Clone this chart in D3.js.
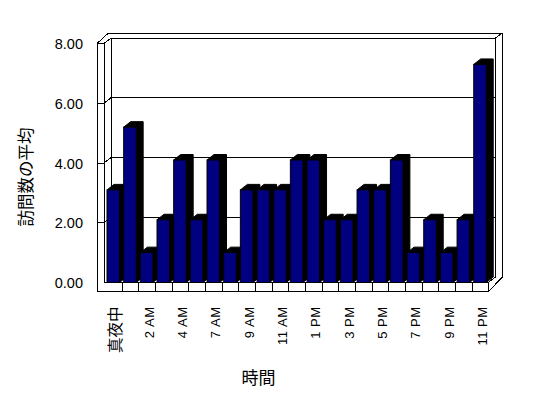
<!DOCTYPE html>
<html>
<head>
<meta charset="utf-8">
<script src="https://cdn.jsdelivr.net/npm/d3@7"></script>
<style>
  body { margin: 0; background: #fff; }
  .frame { fill: none; stroke: #000; stroke-width: 1; shape-rendering: crispEdges; }
  text { fill: #000; }
</style>
</head>
<body>
<div id="chart"></div>
<script>
var hours = ["真夜中","1 AM","2 AM","3 AM","4 AM","5 AM","7 AM","8 AM","9 AM","10 AM","11 AM","正午",
             "1 PM","2 PM","3 PM","4 PM","5 PM","6 PM","7 PM","8 PM","9 PM","10 PM","11 PM"];
var visits = [3.1,5.2,1.0,2.1,4.1,2.1,4.1,1.0,3.1,3.1,3.1,4.1,
              4.1,2.1,2.1,3.1,3.1,4.1,1.0,2.1,1.0,2.1,7.3];
var yTicks = [0,2,4,6,8];
var yTitle = "訪問数の平均",
    xTitle = "時間";

var width = 548, height = 398,
    dx = 7, dy = -5.5,      // depth of the floor / walls
    wall = 7,               // thickness of left wall
    floorH = 8.5;           // thickness of floor slab

var svg = d3.select('#chart').append('svg')
    .attr('width', width)
    .attr('height', height);

var x = d3.scaleBand()
    .domain(hours)
    .range([105, 488.4]);

var y = d3.scaleLinear()
    .domain([0, 8])
    .range([282.5, 43.5]);

var x0 = x.range()[0], x1 = x.range()[1],
    yb = y(0), yt = y(8),
    lw = x0 - 1 - wall;       // left wall front edge

function isCJK(s){ return /[^\x00-\x7f]/.test(s); }

var g = svg.append('g');

// outer box
g.append('path').attr('class', 'frame')
  .attr('d', 'M' + lw + ',' + (yb + floorH) + 'V' + yt +
    'L' + (lw + 11.5) + ',' + (yt + dy * 2 + 0.5) +
    'H' + (x1 + dx * 2) + 'V' + (yb + dy) +
    'L' + (x1 + 0.6) + ',' + (yb + floorH) + 'Z');

// wall edges, back wall, floor edge
g.append('path').attr('class', 'frame')
  .attr('d', 'M' + (x0 - 1) + ',' + yb + 'V' + yt +
    'M' + (x0 - 1 + dx) + ',' + (yb + dy) + 'V' + (yt + dy) + 'H' + (x1 + dx) + 'V' + (yb + dy) +
    'M' + (x1 + dx) + ',' + (yt + dy) + 'L' + (x1 + dx * 2) + ',' + (yt + dy * 2 + 0.5) +
    'M' + x0 + ',' + yb + 'H' + x1 + 'L' + (x1 + dx) + ',' + (yb + dy) +
    'M' + x1 + ',' + yb + 'V' + (yb + floorH));

// gridlines: front tick on wall, diagonal on side, line across back wall
g.selectAll('.grid')
  .data(yTicks.filter(function(d){ return d > 0; }))
  .enter().append('path')
    .attr('class', 'frame grid')
    .attr('d', function(d) {
      var yy = y(d);
      return 'M' + lw + ',' + yy + 'H' + (x0 - 1) +
        'L' + (x0 - 1 + dx) + ',' + (yy + dy) + 'H' + (x1 + dx);
    });

// category dividers on floor front
g.selectAll('.div')
  .data(hours.slice(1))
  .enter().append('line')
    .attr('class', 'frame')
    .attr('x1', function(d){ return Math.round(x(d)) + 0.5; })
    .attr('x2', function(d){ return Math.round(x(d)) + 0.5; })
    .attr('y1', yb)
    .attr('y2', yb + floorH);

// bars
var bw = 12.5, bo = 2;
var bars = g.selectAll('.bar')
  .data(hours.map(function(h, i){ return {name: h, v: visits[i]}; }))
  .enter().append('g')
    .attr('class', 'bar');

bars.append('polygon')
  .attr('fill', '#000')
  .attr('stroke', '#000')
  .attr('points', function(d) {
    var l = x(d.name) + bo, r = l + bw, t = y(d.v);
    return [[l, t], [l + dx, t + dy], [r + dx, t + dy], [r + dx, yb + dy], [r, yb], [r, t]].join(' ');
  });

bars.append('rect')
  .attr('fill', '#000080')
  .attr('stroke', '#000')
  .attr('x', function(d){ return x(d.name) + bo; })
  .attr('y', function(d){ return y(d.v); })
  .attr('width', bw)
  .attr('height', function(d){ return yb - y(d.v); });

// y axis labels
var yAxis = d3.axisLeft(y)
    .tickValues(yTicks)
    .tickFormat(d3.format('.2f'))
    .tickSize(0)
    .tickPadding(3);

var ya = svg.append('g')
    .attr('transform', 'translate(86,0.5)')
    .call(yAxis);
ya.select('.domain').remove();
ya.selectAll('text')
    .attr('fill', '#000')
    .attr('font-family', '"Liberation Sans", Arial, sans-serif')
    .attr('font-size', '14.5px');

// x labels, every second category
svg.selectAll('.xlbl')
  .data(hours.filter(function(d, i){ return i % 2 === 0; }))
  .enter().append('text')
    .attr('class', 'xlbl')
    .attr('transform', function(d) {
      var cx = x(d) + x.bandwidth() / 2 + (isCJK(d) ? 0.5 : 2.5);
      return 'translate(' + cx + ',306.5) rotate(-90)';
    })
    .attr('text-anchor', 'end')
    .attr('dominant-baseline', 'central')
    .attr('fill', '#000')
    .attr('font-family', function(d){ return isCJK(d) ? '"Noto Sans CJK JP", sans-serif' : '"Liberation Sans", Arial, sans-serif'; })
    .attr('font-size', function(d){ return isCJK(d) ? '15.5px' : '13px'; })
    .attr('letter-spacing', function(d){ return isCJK(d) ? null : '0.5px'; })
    .text(function(d){ return d; });

// axis titles
svg.append('text')
    .attr('transform', 'translate(24.5,177) rotate(-90)')
    .attr('text-anchor', 'middle')
    .attr('dominant-baseline', 'central')
    .attr('fill', '#000')
    .attr('font-family', '"Noto Sans CJK JP", sans-serif')
    .attr('font-size', '16.5px')
    .text(yTitle);

svg.append('text')
    .attr('x', 258.5)
    .attr('y', 376)
    .attr('text-anchor', 'middle')
    .attr('dominant-baseline', 'central')
    .attr('fill', '#000')
    .attr('font-family', '"Noto Sans CJK JP", sans-serif')
    .attr('font-size', '17px')
    .text(xTitle);
</script>
</body>
</html>
